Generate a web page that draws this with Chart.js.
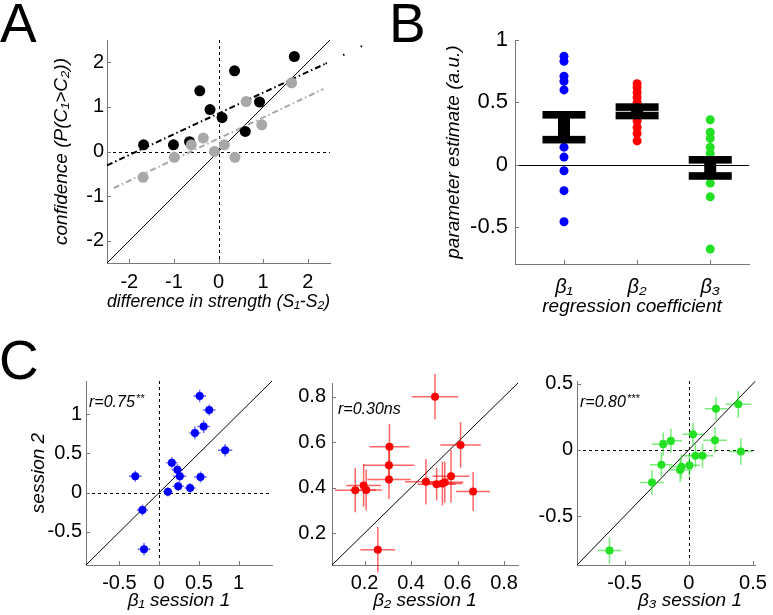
<!DOCTYPE html>
<html>
<head>
<meta charset="utf-8">
<script src="https://cdn.jsdelivr.net/npm/chart.js@4"></script>
<style>
body { margin: 0; background: #fff; }
#wrap { position: relative; width: 773px; height: 615px; overflow: hidden; font-family: 'Liberation Sans', Arial, sans-serif; }
#wrap canvas { position: absolute; }
.letter { position: absolute; font-size: 55px; line-height: 55px; color: #000; }
</style>
</head>
<body>
<div id="wrap">
  <div class="letter" style="left:0px;top:-4px">A</div>
  <div class="letter" style="left:389px;top:-4px">B</div>
  <div class="letter" style="left:-1px;top:333px">C</div>
  <canvas id="chartA" width="355" height="293" style="left:20px;top:20px"></canvas>
  <canvas id="chartB" width="335" height="298" style="left:430px;top:20px"></canvas>
  <canvas id="chartC1" width="270" height="250" style="left:15px;top:365px"></canvas>
  <canvas id="chartC2" width="240" height="250" style="left:290px;top:365px"></canvas>
  <canvas id="chartC3" width="238" height="250" style="left:535px;top:365px"></canvas>
</div>
<script>
// A: confidence vs difference in strength, two conditions + fitted lines
const strengthDiffBlack = [-1.68, -1.01, -0.65, -0.42, -0.19, 0.08, 0.36, 0.60, 0.92, 1.70];
const confidenceBlack = [0.15, 0.15, 0.22, 1.36, 0.94, 0.76, 1.81, 0.45, 1.11, 2.13];
const strengthDiffGray = [-1.69, -0.99, -0.61, -0.34, -0.09, 0.13, 0.37, 0.62, 0.97, 1.64];
const confidenceGray = [-0.58, -0.13, 0.15, 0.30, 0.00, 0.15, -0.13, 1.12, 0.60, 1.54];
const fitBlackX = [-2.5, 2.4];
const fitBlackY = [-0.31, 1.97];
const fitBlackTailX = [2.4, 3.25];
const fitBlackTailY = [1.97, 2.38];
const fitGrayX = [-2.35, 2.35];
const fitGrayY = [-0.82, 1.40];
const ticksA = [-2, -1, 0, 1, 2];

// B: parameter estimates per regression coefficient
const coefLabels = ['β₁', 'β₂', 'β₃'];
const beta1Est = [0.87, 0.83, 0.71, 0.67, 0.60, 0.34, 0.30, 0.26, 0.22, 0.14, 0.06, -0.05, -0.21, -0.46];
const beta2Est = [0.65, 0.62, 0.58, 0.54, 0.50, 0.46, 0.44, 0.42, 0.40, 0.38, 0.35, 0.30, 0.25, 0.19];
const beta3Est = [0.36, 0.26, 0.21, 0.14, 0.09, 0.05, 0.01, -0.02, -0.03, -0.07, -0.10, -0.15, -0.26, -0.68];
const coefMean = [0.30, 0.428, -0.027];
const coefSem = [0.10, 0.034, 0.065];
const ticksB = [-0.5, 0, 0.5, 1];

// C: session 1 vs session 2 (with error bars)
const b1S1 = [0.51, 0.63, 0.56, 0.45, 0.83, 0.16, 0.23, 0.26, 0.52, -0.30, 0.24, 0.39, 0.11, -0.21, -0.19];
const b1S2 = [1.23, 1.05, 0.84, 0.76, 0.54, 0.38, 0.29, 0.21, 0.20, 0.21, 0.08, 0.06, 0.01, -0.22, -0.72];
const b1S1Err = [0.08, 0.08, 0.08, 0.07, 0.09, 0.07, 0.07, 0.08, 0.08, 0.08, 0.07, 0.07, 0.06, 0.07, 0.08];
const b1S2Err = [0.08, 0.07, 0.08, 0.08, 0.08, 0.07, 0.07, 0.07, 0.07, 0.07, 0.06, 0.06, 0.06, 0.07, 0.08];

const b2S1 = [0.503, 0.307, 0.305, 0.305, 0.160, 0.196, 0.207, 0.257, 0.464, 0.510, 0.535, 0.545, 0.572, 0.613, 0.667];
const b2S2 = [0.800, 0.580, 0.498, 0.436, 0.389, 0.410, 0.390, 0.127, 0.426, 0.415, 0.418, 0.424, 0.450, 0.587, 0.383];
const b2S1Err = [0.10, 0.086, 0.11, 0.093, 0.088, 0.075, 0.068, 0.075, 0.09, 0.082, 0.086, 0.08, 0.079, 0.087, 0.073];
const b2S2Err = [0.10, 0.10, 0.08, 0.086, 0.097, 0.094, 0.09, 0.10, 0.10, 0.072, 0.097, 0.09, 0.115, 0.10, 0.086];

const b3S1 = [0.386, 0.212, 0.033, 0.204, -0.139, -0.199, 0.406, 0.052, 0.107, -0.213, -0.057, -0.067, 0.005, -0.286, -0.617];
const b3S2 = [0.344, 0.311, 0.118, 0.073, 0.068, 0.043, -0.013, -0.045, -0.045, -0.113, -0.128, -0.153, -0.116, -0.246, -0.761];
const b3S1Err = [0.10, 0.087, 0.08, 0.093, 0.087, 0.087, 0.093, 0.09, 0.085, 0.09, 0.093, 0.09, 0.08, 0.092, 0.093];
const b3S2Err = [0.10, 0.088, 0.085, 0.098, 0.092, 0.088, 0.10, 0.088, 0.09, 0.088, 0.093, 0.09, 0.084, 0.093, 0.10];

const ticksC1 = [-0.5, 0, 0.5, 1];
const ticksC2 = [0.2, 0.4, 0.6, 0.8];
const ticksC3 = [-0.5, 0, 0.5];

const FONT = "'Liberation Sans', Arial, sans-serif";
const AXIS = '#777';
const BLUE = '#0000ff', RED = '#ff0000', GREEN = '#22e022';

const xy = (xs, ys) => xs.map((v, i) => ({x: v, y: ys[i]}));

// zero / identity reference lines, under the data
const refLines = {
    id: 'refLines',
    beforeDatasetsDraw(chart, args, opts) {
        const {ctx, chartArea: a, scales: {x, y}} = chart;
        ctx.save();
        ctx.beginPath();
        ctx.rect(a.left, a.top, a.width, a.height);
        ctx.clip();
        ctx.strokeStyle = '#000';
        ctx.lineWidth = 1;
        if (opts.diagonal) {
            const lo = Math.max(x.min, y.min), hi = Math.min(x.max, y.max);
            ctx.beginPath();
            ctx.moveTo(x.getPixelForValue(lo), y.getPixelForValue(lo));
            ctx.lineTo(x.getPixelForValue(hi), y.getPixelForValue(hi));
            ctx.stroke();
        }
        ctx.setLineDash(opts.zeroSolid ? [] : [3, 3]);
        if (opts.zeroY && y.min < 0 && y.max > 0) {
            const py = Math.round(y.getPixelForValue(0)) + 0.5;
            ctx.beginPath(); ctx.moveTo(a.left, py); ctx.lineTo(a.right, py); ctx.stroke();
        }
        if (opts.zeroX && x.min < 0 && x.max > 0) {
            const px = Math.round(x.getPixelForValue(0)) + 0.5;
            ctx.beginPath(); ctx.moveTo(px, a.top); ctx.lineTo(px, a.bottom); ctx.stroke();
        }
        ctx.restore();
    }
};

// crosses for session error bars
const errorBars = {
    id: 'errorBars',
    beforeDatasetsDraw(chart) {
        const {ctx, scales: {x, y}} = chart;
        chart.data.datasets.forEach(ds => {
            if (!ds.xErr) return;
            ctx.save();
            ctx.strokeStyle = ds.errColor;
            ctx.lineWidth = 1.5;
            ds.data.forEach((p, i) => {
                ctx.beginPath();
                ctx.moveTo(x.getPixelForValue(p.x - ds.xErr[i]), y.getPixelForValue(p.y));
                ctx.lineTo(x.getPixelForValue(p.x + ds.xErr[i]), y.getPixelForValue(p.y));
                ctx.moveTo(x.getPixelForValue(p.x), y.getPixelForValue(p.y - ds.yErr[i]));
                ctx.lineTo(x.getPixelForValue(p.x), y.getPixelForValue(p.y + ds.yErr[i]));
                ctx.stroke();
            });
            ctx.restore();
        });
    }
};

// thick mean +/- sem bars in B
const summaryBars = {
    id: 'summaryBars',
    afterDatasetsDraw(chart, args, opts) {
        if (!opts.mean) return;
        const {ctx, scales: {x, y}} = chart;
        ctx.save();
        ctx.fillStyle = '#000';
        opts.mean.forEach((m, i) => {
            const cx = x.getPixelForValue(i + 1);
            const top = y.getPixelForValue(m + opts.sem[i]);
            const bot = y.getPixelForValue(m - opts.sem[i]);
            ctx.fillRect(cx - 6, top, 12, bot - top);
            ctx.fillRect(cx - 21.5, top - 3.8, 43, 7.6);
            ctx.fillRect(cx - 21.5, bot - 3.8, 43, 7.6);
        });
        ctx.restore();
    }
};

// inward tick marks like the original
const axisTicks = {
    id: 'axisTicks',
    afterDraw(chart) {
        const {ctx, chartArea: a, scales: {x, y}} = chart;
        ctx.save();
        ctx.strokeStyle = AXIS;
        ctx.lineWidth = 1;
        ctx.beginPath();
        x.ticks.forEach(t => {
            const px = Math.round(x.getPixelForValue(t.value)) + 0.5;
            ctx.moveTo(px, a.bottom); ctx.lineTo(px, a.bottom - 4);
        });
        y.ticks.forEach(t => {
            const py = Math.round(y.getPixelForValue(t.value)) + 0.5;
            ctx.moveTo(a.left, py); ctx.lineTo(a.left + 4, py);
        });
        ctx.stroke();
        ctx.restore();
    }
};

// correlation note in C
const corrNote = {
    id: 'corrNote',
    afterDraw(chart, args, opts) {
        if (!opts.text) return;
        const {ctx, chartArea: a} = chart;
        ctx.save();
        ctx.fillStyle = '#000';
        ctx.textBaseline = 'middle';
        ctx.font = 'italic 16px ' + FONT;
        const x0 = a.left + opts.dx, y0 = a.top + opts.dy;
        ctx.fillText(opts.text, x0, y0);
        const w = ctx.measureText(opts.text).width;
        ctx.font = 'italic 11px ' + FONT;
        ctx.fillText(opts.stars, x0 + w + 1, y0 - 4);
        ctx.restore();
    }
};

function makeScale(o) {
    return {
        type: 'linear',
        min: o.min,
        max: o.max,
        afterBuildTicks: s => { s.ticks = o.ticks.map(v => ({value: v})); },
        afterFit: s => { if (s.isHorizontal()) s.height = o.size; else s.width = o.size; },
        grid: {display: true, drawOnChartArea: false, drawTicks: false},
        border: {display: true, color: AXIS, width: 1},
        ticks: {
            color: '#000',
            padding: o.pad,
            autoSkip: false,
            maxRotation: 0,
            font: {family: FONT, size: o.fontSize, style: o.labels ? 'italic' : 'normal'},
            callback: o.labels ? (v => o.labels[v - 1]) : (v => String(v))
        },
        title: {
            display: !!o.title,
            text: o.title || '',
            color: '#000',
            font: {family: FONT, size: 19, style: 'italic'},
            padding: {top: o.titlePad || 0, bottom: o.titlePad || 0}
        }
    };
}

function makeChart(id, datasets, xScale, yScale, padding, plugOpts) {
    return new Chart(document.getElementById(id), {
        type: 'scatter',
        data: {datasets: datasets},
        options: {
            responsive: false,
            animation: false,
            events: [],
            layout: {padding: padding},
            plugins: Object.assign({legend: {display: false}, tooltip: {enabled: false}}, plugOpts),
            scales: {x: xScale, y: yScale}
        },
        plugins: [refLines, errorBars, summaryBars, axisTicks, corrNote]
    });
}

const dot = (data, color, r) => ({data: data, pointRadius: r, pointBackgroundColor: color, pointBorderWidth: 0, showLine: false});
const fitLine = (data, color, dash) => ({data: data, showLine: true, pointRadius: 0, borderColor: color, borderWidth: 2, borderDash: dash, clip: false});

// ---- A ----
makeChart('chartA', [
    dot(xy(strengthDiffGray, confidenceGray), '#a8a8a8', 5.5),
    dot(xy(strengthDiffBlack, confidenceBlack), '#000', 5.5),
    fitLine(xy(fitGrayX, fitGrayY), '#a8a8a8', [6, 3, 1.5, 3]),
    fitLine(xy(fitBlackX, fitBlackY), '#000', [6, 3, 1.5, 3]),
    fitLine(xy(fitBlackTailX, fitBlackTailY), '#000', [1.5, 18])
],
    makeScale({min: -2.5, max: 2.5, ticks: ticksA, size: 50, pad: 7, fontSize: 20, title: 'difference in strength (S₁-S₂)'}),
    makeScale({min: -2.5, max: 2.5, ticks: ticksA, size: 87, pad: 3, fontSize: 20, title: 'confidence (P(C₁>C₂))', titlePad: 30}),
    {top: 20, right: 45, left: 0, bottom: 0},
    {refLines: {diagonal: true, zeroX: true, zeroY: true}}
);

// ---- B ----
makeChart('chartB', [
    dot(beta1Est.map(v => ({x: 1, y: v})), BLUE, 4.5),
    dot(beta2Est.map(v => ({x: 2, y: v})), RED, 4.5),
    dot(beta3Est.map(v => ({x: 3, y: v})), GREEN, 4.5)
],
    makeScale({min: 0.33, max: 3.53, ticks: [1, 2, 3], labels: coefLabels, size: 54, pad: 11, fontSize: 20, title: 'regression coefficient'}),
    makeScale({min: -0.8, max: 1.0, ticks: ticksB, size: 85, pad: 7, fontSize: 22, title: 'parameter estimate (a.u.)', titlePad: 12}),
    {top: 19, right: 16, left: 0, bottom: 0},
    {refLines: {zeroY: true, zeroSolid: true}, summaryBars: {mean: coefMean, sem: coefSem}}
);

// ---- C ----
function sessionSet(xs, ys, xe, ye, color, errColor) {
    const ds = dot(xy(xs, ys), color, 4);
    ds.xErr = xe;
    ds.yErr = ye;
    ds.errColor = errColor;
    return ds;
}

makeChart('chartC1', [sessionSet(b1S1, b1S2, b1S1Err, b1S2Err, BLUE, 'rgba(0,0,255,0.6)')],
    makeScale({min: -0.92, max: 1.42, ticks: ticksC1, size: 50, pad: 6, fontSize: 20, title: 'β₁ session 1', titlePad: 3}),
    makeScale({min: -0.92, max: 1.42, ticks: ticksC1, size: 71, pad: 4, fontSize: 20, title: 'session 2', titlePad: 12}),
    {top: 14, right: 13, left: 0, bottom: 0},
    {refLines: {diagonal: true, zeroX: true, zeroY: true}, corrNote: {text: 'r=0.75', stars: '**', dx: 3, dy: 22}}
);

makeChart('chartC2', [sessionSet(b2S1, b2S2, b2S1Err, b2S2Err, RED, 'rgba(255,0,0,0.6)')],
    makeScale({min: 0.06, max: 0.86, ticks: ticksC2, size: 50, pad: 6, fontSize: 20, title: 'β₂ session 1', titlePad: 3}),
    makeScale({min: 0.06, max: 0.86, ticks: ticksC2, size: 42, pad: 6, fontSize: 20}),
    {top: 15, right: 12, left: 0, bottom: 0},
    {refLines: {diagonal: true, zeroX: true, zeroY: true}, corrNote: {text: 'r=0.30ns', stars: '', dx: 6, dy: 27}}
);

// the original label sits right of centre under this panel
makeChart('chartC3', [sessionSet(b3S1, b3S2, b3S1Err, b3S2Err, GREEN, 'rgba(34,224,34,0.6)')],
    makeScale({min: -0.87, max: 0.52, ticks: ticksC3, size: 50, pad: 6, fontSize: 20, title: '         β₃ session 1', titlePad: 3}),
    makeScale({min: -0.87, max: 0.52, ticks: ticksC3, size: 42, pad: 4, fontSize: 20}),
    {top: 15, right: 10, left: 0, bottom: 0},
    {refLines: {diagonal: true, zeroX: true, zeroY: true}, corrNote: {text: 'r=0.80', stars: '***', dx: 3, dy: 22}}
);
</script>
</body>
</html>
